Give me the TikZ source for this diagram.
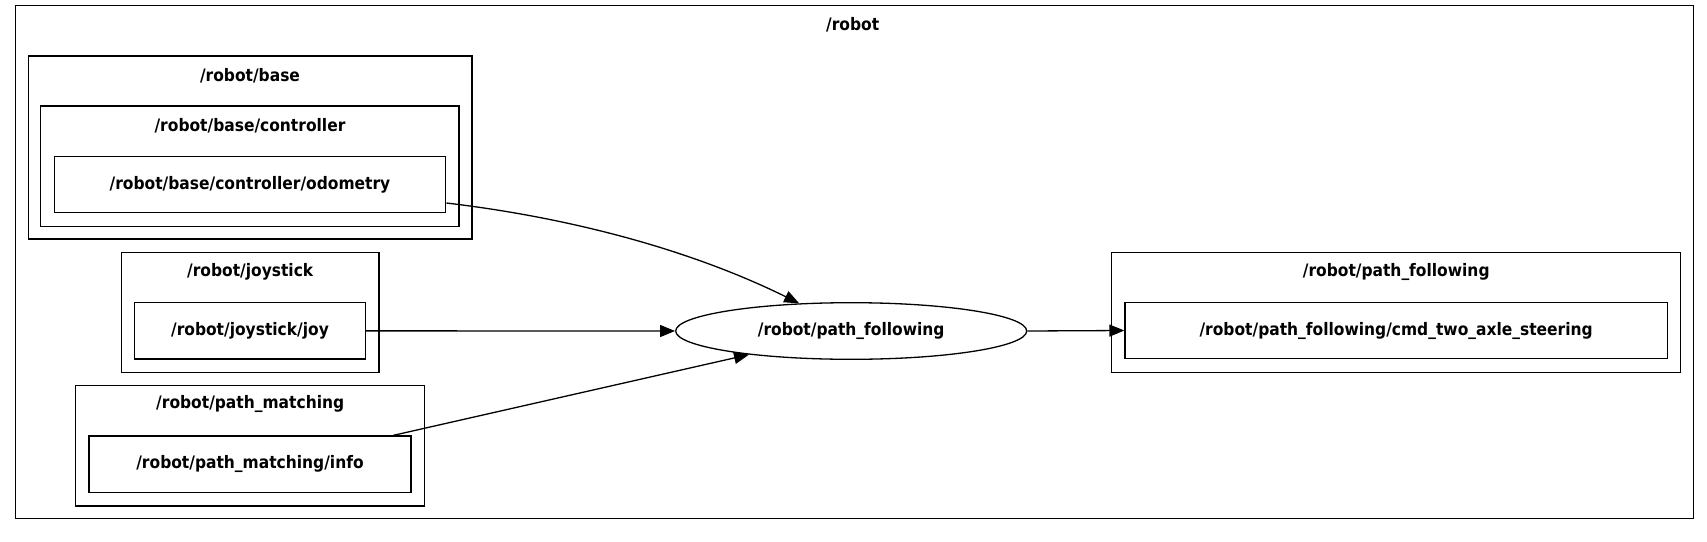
\documentclass[tikz,border=0pt]{standalone}
\usepackage{fontspec}
\setmainfont{DejaVu Sans}[FakeStretch=0.9]
\usetikzlibrary{arrows.meta,shapes.geometric,calc}
\newcommand{\lblfont}{\fontsize{17.2}{19}\selectfont\bfseries}
\tikzset{
  boxnode/.style={draw=black, line width=1.3pt, rectangle, inner sep=0pt, fill=none},
  lbl/.style={inner sep=0pt, font=\lblfont, anchor=center},
  leaf/.style={boxnode, font=\lblfont},
  topic/.style={draw=black, line width=1.3pt, ellipse, inner sep=0pt, minimum width=351pt, minimum height=56.6pt, font=\lblfont},
  edge/.style={line width=1.3pt, -{Triangle[length=15pt,width=12pt]}}
}
\begin{document}
\begin{tikzpicture}[x=1pt,y=-1pt]
\useasboundingbox (0,0) rectangle (1707,541);
\fill[white] (0,0) rectangle (1707,541);
% clusters
\node[boxnode, minimum width=1677.6pt, minimum height=513pt] (robot) at (854.5,262.2) {};
\node[lbl] (robotT) at (852.7,25) {/robot};
\node[boxnode, minimum width=443.7pt, minimum height=183pt] (base) at (250.15,147.5) {};
\node[lbl] (baseT) at (250,76) {/robot/base};
\node[boxnode, minimum width=418.3pt, minimum height=120.7pt] (ctrl) at (249.85,166.35) {};
\node[lbl] (ctrlT) at (250,126) {/robot/base/controller};
\node[leaf, minimum width=391.4pt, minimum height=55.6pt] (odo) at (250,184.5) {/robot/base/controller/odometry};
\node[boxnode, minimum width=257.7pt, minimum height=120pt] (joystick) at (250.15,312.3) {};
\node[lbl] (joystickT) at (250.2,271.7) {/robot/joystick};
\node[leaf, minimum width=230.6pt, minimum height=56.3pt] (joy) at (250,330.85) {/robot/joystick/joy};
\node[boxnode, minimum width=349pt, minimum height=120.3pt] (pm) at (250.2,445.85) {};
\node[lbl] (pmT) at (250.2,404.3) {/robot/path\_matching};
\node[leaf, minimum width=322pt, minimum height=56.3pt] (info) at (250,464.15) {/robot/path\_matching/info};
\node[boxnode, minimum width=569pt, minimum height=120.4pt] (pfc) at (1396.2,312.5) {};
\node[lbl] (pfcT) at (1396.2,271.7) {/robot/path\_following};
\node[leaf, minimum width=542.3pt, minimum height=55.6pt] (cmd) at (1396.15,330.5) {/robot/path\_following/cmd\_two\_axle\_steering};
% topic node
\node[topic] (pf) at (851.2,331) {/robot/path\_following};
% edges
\draw[edge] ([yshift=-18.5pt]odo.east) .. controls (565,217) and (687,248) .. (pf.152.6);
\draw[edge] (joy.east) -- (pf.west);
\draw[edge] ([xshift=143.3pt]info.north) -- (pf.193.8);
\draw[edge] (pf.east) -- (cmd.west);
\end{tikzpicture}
\end{document}
